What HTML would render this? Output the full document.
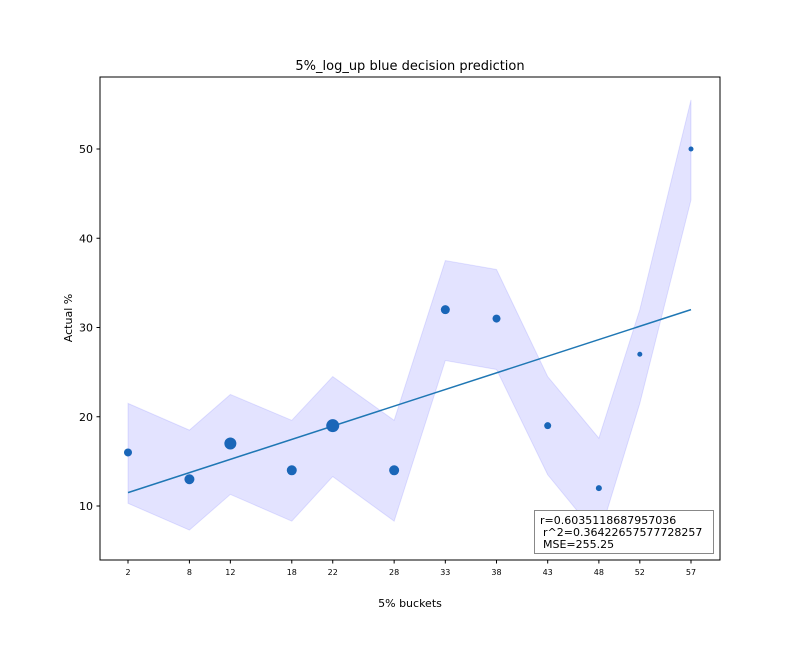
<!DOCTYPE html>
<html><head><meta charset="utf-8"><style>
body{margin:0;background:#fff;font-family:"Liberation Sans","DejaVu Sans",sans-serif}
</style></head><body>
<svg id="chart" width="800" height="640" xmlns="http://www.w3.org/2000/svg" font-family="'DejaVu Sans','Liberation Sans',sans-serif">
<rect width="800" height="640" fill="#fff"/>
<g id="plot"></g>
<rect x="100" y="77" width="620" height="483" fill="none" stroke="#000" stroke-width="1"/>
<text x="410" y="70" font-size="13" text-anchor="middle">5%_log_up blue decision prediction</text>
<text x="410" y="607" font-size="11" text-anchor="middle">5% buckets</text>
<text transform="translate(72,318) rotate(-90)" font-size="11" text-anchor="middle">Actual %</text>
<g>
<rect x="534.5" y="510.5" width="179" height="43" fill="#fff" stroke="#888" stroke-width="1"/>
<text x="540" y="524" font-size="11">r=0.6035118687957036</text>
<text x="543" y="536" font-size="11">r^2=0.36422657577728257</text>
<text x="543" y="548" font-size="11">MSE=255.25</text>
</g>
</svg>
<script>
const cats=[2,8,12,18,22,28,33,38,43,48,52,57];
const actual=[16,13,17,14,19,14,32,31,19,12,27,50];
const sizes=[4,5,6,5,6.5,5,4.5,4,3.5,3,2.5,2.5];
const upper=[21.5,18.5,22.5,19.6,24.5,19.6,37.5,36.5,24.5,17.6,32,55.5];
const lower=[10.3,7.3,11.3,8.3,13.3,8.3,26.3,25.3,13.5,6.5,21.5,44.3];
const fitStart=11.5, fitEnd=32;
const yTicks=[10,20,30,40,50];
const NS="http://www.w3.org/2000/svg";
const X=v=>128+(v-2)*(563/55);
const Y=v=>506-(v-10)*(357/40);
const g=document.getElementById('plot');
function mk(t,a){const e=document.createElementNS(NS,t);for(const k in a)e.setAttribute(k,a[k]);g.appendChild(e);return e;}
let d=cats.map((c,i)=>(i?'L':'M')+X(c)+','+Y(upper[i])).join('');
for(let i=cats.length-1;i>=0;i--)d+='L'+X(cats[i])+','+Y(lower[i]);
const band=mk('path',{d:d+'Z',fill:'#0000ff',"fill-opacity":0.11,stroke:'#0000ff',"stroke-opacity":0.1});


const line=mk('line',{x1:X(cats[0]),y1:Y(fitStart),x2:X(cats[cats.length-1]),y2:Y(fitEnd),stroke:'#1f77b4',"stroke-width":1.5});


cats.forEach((c,i)=>{
 const p=mk('circle',{cx:X(c),cy:Y(actual[i]),r:sizes[i],fill:'#1a66b8'});
 
 
 const t=mk('line',{x1:X(c),x2:X(c),y1:560,y2:563.5,stroke:'#000'});
 
 
 const l=mk('text',{x:X(c),y:575,"font-size":8,"text-anchor":"middle"});l.textContent=c;
 
 
});
yTicks.forEach(v=>{
 const t=mk('line',{x1:96.5,x2:100,y1:Y(v),y2:Y(v),stroke:'#000'});
 
 
 const l=mk('text',{x:93,y:Y(v)+4,"font-size":11,"text-anchor":"end"});l.textContent=v;
 
 
});
</script>
</body></html>
